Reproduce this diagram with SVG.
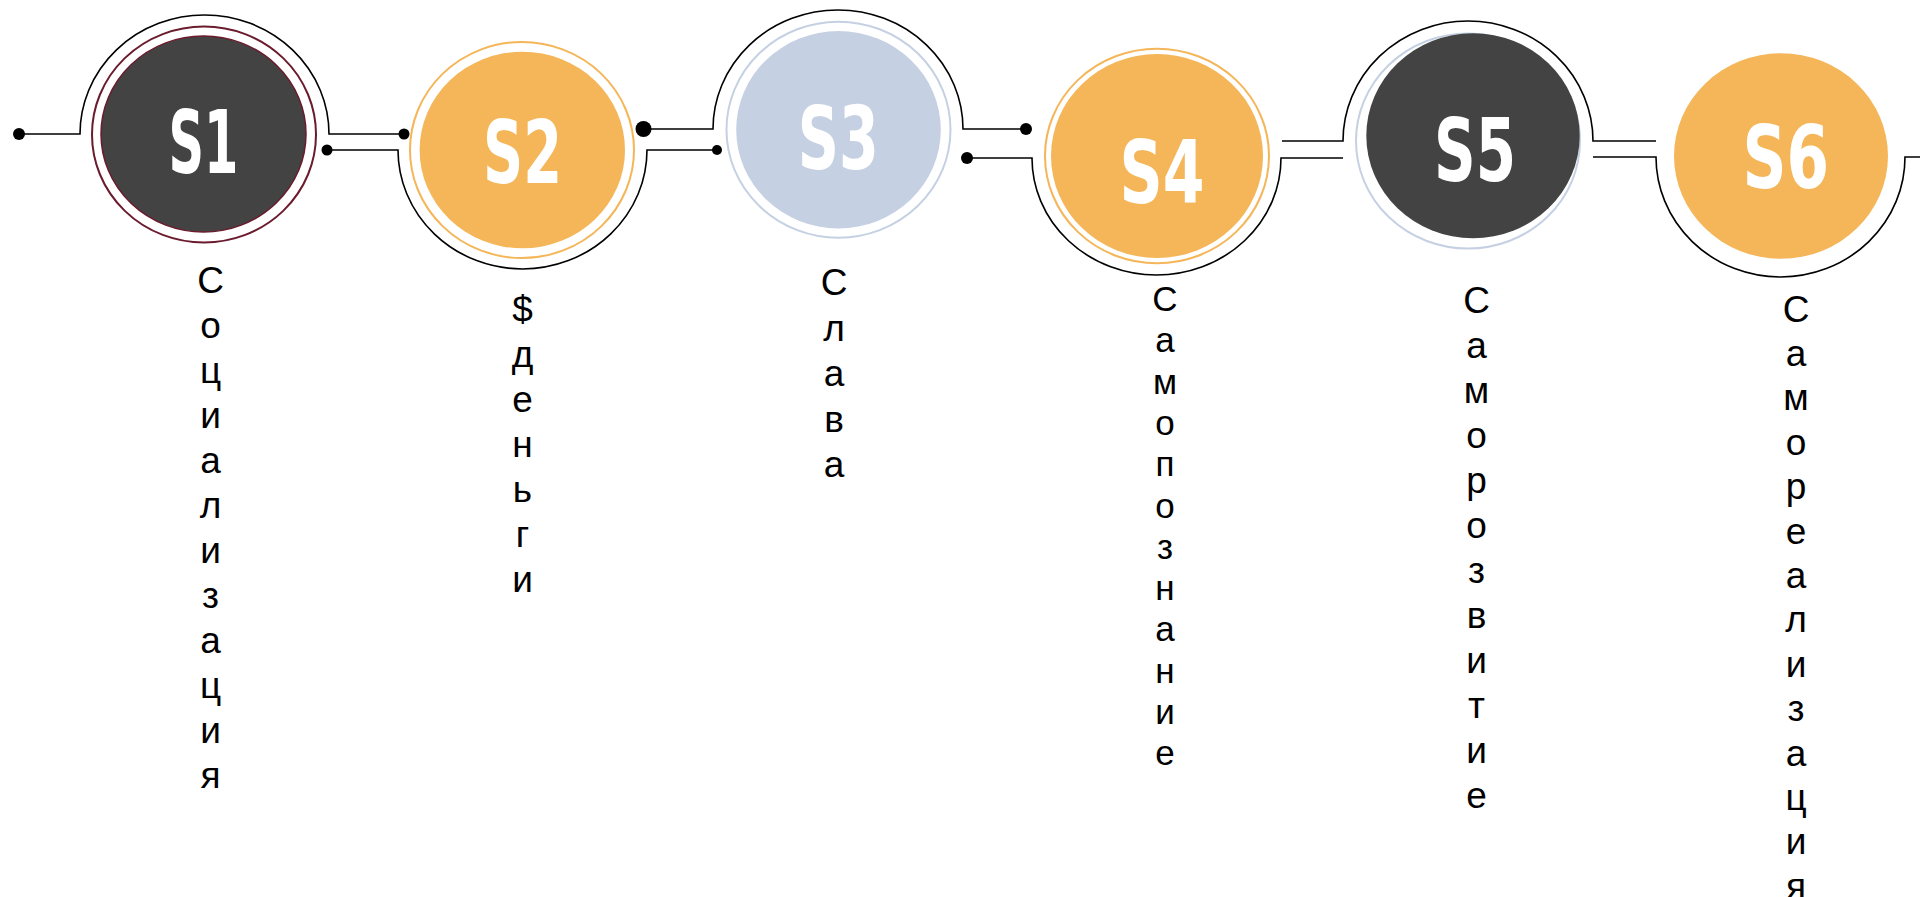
<svg xmlns="http://www.w3.org/2000/svg" width="1920" height="897" viewBox="0 0 1920 897">
<style>
.wire{fill:none;stroke:#000;stroke-width:1.6}
.dot{fill:#000}
.num{font-family:"Liberation Sans Narrow","DejaVu Sans Condensed","Liberation Sans",sans-serif;font-weight:bold;font-size:88px;fill:#fff;text-anchor:middle}
.lbl{font-family:"Liberation Sans",Arial,sans-serif;font-size:37px;fill:#000;text-anchor:middle}
.dark{fill:#434343}
.orange{fill:#F4B659}
.blue{fill:#C5D1E3}
</style>
<rect width="1920" height="897" fill="#fff"/>
<g id="connectors">
<circle class="dot" cx="19" cy="134" r="6"/>
<path class="wire" d="M19,134 H80 A124.5,119 0 0 1 329,134 H404"/>
<circle class="dot" cx="404" cy="134" r="5.5"/>
<circle class="dot" cx="327" cy="150" r="5.5"/>
<path class="wire" d="M327,150 H398 A124.5,119 0 0 0 647,150 H717"/>
<circle class="dot" cx="717" cy="150" r="5"/>
<circle class="dot" cx="643.5" cy="129" r="8"/>
<path class="wire" d="M643.5,129 H713 A125,119 0 0 1 963,129 H1026"/>
<circle class="dot" cx="1026" cy="129" r="6"/>
<circle class="dot" cx="967" cy="158" r="6"/>
<path class="wire" d="M967,158 H1032 A124.5,117 0 0 0 1281,158 H1343"/>
<path class="wire" d="M1282,141 H1343 A125,120 0 0 1 1593,141 H1656"/>
<path class="wire" d="M1593,157 H1656 A124.5,120 0 0 0 1905,157 H1920"/>
</g>
<g id="S1">
<ellipse cx="204" cy="134.5" rx="112" ry="108" fill="none" stroke="#6A1B2D" stroke-width="2"/>
<ellipse class="dark" cx="203.5" cy="134" rx="102.5" ry="98" stroke="#6A1B2D" stroke-width="1.5"/>
<text class="num" x="203.5" y="173" textLength="70" lengthAdjust="spacingAndGlyphs">S1</text>
<text class="lbl"><tspan x="210.5" y="293">С</tspan><tspan x="210.5" dy="45">о</tspan><tspan x="210.5" dy="45">ц</tspan><tspan x="210.5" dy="45">и</tspan><tspan x="210.5" dy="45">а</tspan><tspan x="210.5" dy="45">л</tspan><tspan x="210.5" dy="45">и</tspan><tspan x="210.5" dy="45">з</tspan><tspan x="210.5" dy="45">а</tspan><tspan x="210.5" dy="45">ц</tspan><tspan x="210.5" dy="45">и</tspan><tspan x="210.5" dy="45">я</tspan></text>
</g>
<g id="S2">
<ellipse cx="522" cy="150" rx="112" ry="108" fill="none" stroke="#F4B659" stroke-width="2"/>
<ellipse class="orange" cx="522.3" cy="150" rx="102.7" ry="98.3"/>
<text class="num" x="522.6" y="182.5" textLength="79" lengthAdjust="spacingAndGlyphs">S2</text>
<text class="lbl"><tspan x="522.5" y="322">$</tspan><tspan x="522.5" dy="45">д</tspan><tspan x="522.5" dy="45">е</tspan><tspan x="522.5" dy="45">н</tspan><tspan x="522.5" dy="45">ь</tspan><tspan x="522.5" dy="45">г</tspan><tspan x="522.5" dy="45">и</tspan></text>
</g>
<g id="S3">
<ellipse cx="838.5" cy="129.7" rx="112" ry="108" fill="none" stroke="#C5D1E3" stroke-width="2"/>
<ellipse class="blue" cx="838.5" cy="129.7" rx="102.3" ry="98.7"/>
<text class="num" x="838.3" y="169" textLength="81" lengthAdjust="spacingAndGlyphs">S3</text>
<text class="lbl"><tspan x="834" y="295">С</tspan><tspan x="834" dy="45.5">л</tspan><tspan x="834" dy="45.5">а</tspan><tspan x="834" dy="45.5">в</tspan><tspan x="834" dy="45.5">а</tspan></text>
</g>
<g id="S4">
<ellipse cx="1157" cy="156" rx="112" ry="107.3" fill="none" stroke="#F4B659" stroke-width="2"/>
<ellipse class="orange" cx="1157" cy="156" rx="106" ry="102"/>
<text class="num" x="1162" y="203" textLength="85" lengthAdjust="spacingAndGlyphs">S4</text>
<text class="lbl" style="font-size:35px"><tspan x="1165" y="311">С</tspan><tspan x="1165" dy="41.3">а</tspan><tspan x="1165" dy="41.3">м</tspan><tspan x="1165" dy="41.3">о</tspan><tspan x="1165" dy="41.3">п</tspan><tspan x="1165" dy="41.3">о</tspan><tspan x="1165" dy="41.3">з</tspan><tspan x="1165" dy="41.3">н</tspan><tspan x="1165" dy="41.3">а</tspan><tspan x="1165" dy="41.3">н</tspan><tspan x="1165" dy="41.3">и</tspan><tspan x="1165" dy="41.3">е</tspan></text>
</g>
<g id="S5">
<ellipse cx="1468" cy="141" rx="112" ry="107.5" fill="none" stroke="#C5D1E3" stroke-width="2"/>
<ellipse class="dark" cx="1473" cy="135.8" rx="106.7" ry="102.5"/>
<text class="num" x="1475" y="181" textLength="82" lengthAdjust="spacingAndGlyphs">S5</text>
<text class="lbl"><tspan x="1476.5" y="313">С</tspan><tspan x="1476.5" dy="45">а</tspan><tspan x="1476.5" dy="45">м</tspan><tspan x="1476.5" dy="45">о</tspan><tspan x="1476.5" dy="45">р</tspan><tspan x="1476.5" dy="45">о</tspan><tspan x="1476.5" dy="45">з</tspan><tspan x="1476.5" dy="45">в</tspan><tspan x="1476.5" dy="45">и</tspan><tspan x="1476.5" dy="45">т</tspan><tspan x="1476.5" dy="45">и</tspan><tspan x="1476.5" dy="45">е</tspan></text>
</g>
<g id="S6">
<ellipse class="orange" cx="1781" cy="156" rx="107" ry="102.7"/>
<text class="num" x="1785.7" y="188" textLength="86.6" lengthAdjust="spacingAndGlyphs">S6</text>
<text class="lbl"><tspan x="1796" y="321.5">С</tspan><tspan x="1796" dy="44.4">а</tspan><tspan x="1796" dy="44.4">м</tspan><tspan x="1796" dy="44.4">о</tspan><tspan x="1796" dy="44.4">р</tspan><tspan x="1796" dy="44.4">е</tspan><tspan x="1796" dy="44.4">а</tspan><tspan x="1796" dy="44.4">л</tspan><tspan x="1796" dy="44.4">и</tspan><tspan x="1796" dy="44.4">з</tspan><tspan x="1796" dy="44.4">а</tspan><tspan x="1796" dy="44.4">ц</tspan><tspan x="1796" dy="44.4">и</tspan><tspan x="1796" dy="44.4">я</tspan></text>
</g>
</svg>
